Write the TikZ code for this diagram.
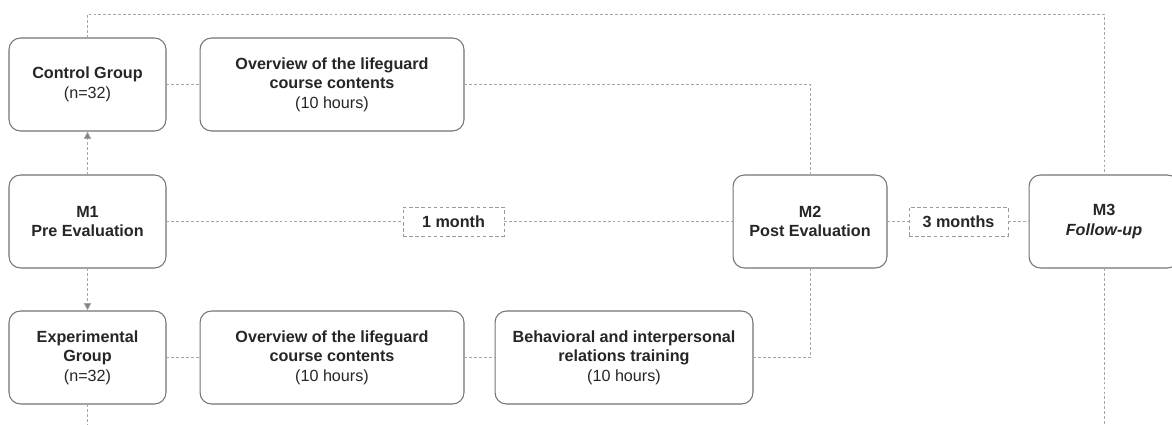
\documentclass[tikz,border=0pt]{standalone}
\usepackage{fontspec}
\setmainfont{Liberation Sans}
\usetikzlibrary{arrows.meta}

\begin{document}
\begin{tikzpicture}[
            x=0.02cm, y=-0.02cm,
            every node/.style={font=\fontsize{9.2}{11.1}\selectfont, text=black!85, align=center, inner sep=0pt},
            box/.style={draw=black!55, line width=0.6pt, rounded corners=6.5pt, fill=white, minimum height=1.86cm},
            gap/.style={draw=black!40, line width=0.5pt, dash pattern=on 2pt off 1.5pt, fill=white, minimum height=0.58cm},
            link/.style={draw=black!35, line width=0.45pt, dash pattern=on 1.6pt off 1.2pt},
            tip/.style={-{Triangle[length=4.2pt, width=4.2pt, fill=black!50]}}
        ]
            \useasboundingbox (0,0) rectangle (1172,425);
            \coordinate (topline) at (0,14);
            \coordinate (bottom) at (0,430);

            \node[box, minimum width=3.14cm] (ctrl) at (87.5,84.5) {\textbf{Control Group}\\(n=32)};
            \node[box, minimum width=5.28cm] (ovc) at (332,84.5) {\textbf{Overview of the lifeguard}\\\textbf{course contents}\\(10 hours)};
            \node[box, minimum width=3.14cm] (m1) at (87.5,221.5) {\textbf{M1}\\\textbf{Pre Evaluation}};
            \node[gap, minimum width=2.02cm] (mon1) at (453.5,221.5) {\textbf{1 month}};
            \node[box, minimum width=3.08cm] (m2) at (810,221.5) {\textbf{M2}\\\textbf{Post Evaluation}};
            \node[gap, minimum width=1.98cm] (mon3) at (958.5,221.5) {\textbf{3 months}};
            \node[box, minimum width=3.0cm] (m3) at (1104,221.5) {\textbf{M3}\\\textbf{\textit{Follow-up}}};
            \node[box, minimum width=3.14cm] (exp) at (87.5,357.5) {\textbf{Experimental}\\\textbf{Group}\\(n=32)};
            \node[box, minimum width=5.28cm] (ove) at (332,357.5) {\textbf{Overview of the lifeguard}\\\textbf{course contents}\\(10 hours)};
            \node[box, minimum width=5.16cm] (beh) at (624,357.5) {\textbf{Behavioral and interpersonal}\\\textbf{relations training}\\(10 hours)};

            \draw[link] (ctrl.north) -- (ctrl.north |- topline) -| (m3.north);
            \draw[link] (ctrl.east) -- (ovc.west);
            \draw[link] (ovc.east) -| (m2.north);
            \draw[link, tip] (m1.north) -- (ctrl.south);
            \draw[link, tip] (m1.south) -- (exp.north);
            \draw[link] (m1.east) -- (mon1.west);
            \draw[link] (mon1.east) -- (m2.west);
            \draw[link] (m2.east) -- (mon3.west);
            \draw[link] (mon3.east) -- (m3.west);
            \draw[link] (exp.east) -- (ove.west);
            \draw[link] (ove.east) -- (beh.west);
            \draw[link] (beh.east) -| (m2.south);
            \draw[link] (exp.south) -- (exp.south |- bottom);
            \draw[link] (m3.south) -- (m3.south |- bottom);

        \end{tikzpicture}
\end{document}
